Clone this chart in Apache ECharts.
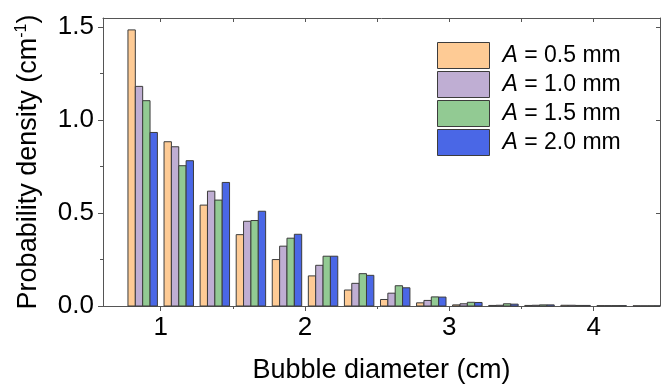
<!DOCTYPE html>
<html><head><meta charset="utf-8">
<script src="https://cdn.jsdelivr.net/npm/echarts@6/dist/echarts.min.js"></script>
<style>html,body{margin:0;padding:0;background:#fff}#c{width:662px;height:384px}</style>
</head><body><div id="c"></div>
<script>
const binCenters = [0.875, 1.125, 1.375, 1.625, 1.875, 2.125, 2.375, 2.625, 2.875, 3.125, 3.375, 3.625, 3.875, 4.125, 4.375];
const seriesNames = ['A = 0.5 mm', 'A = 1.0 mm', 'A = 1.5 mm', 'A = 2.0 mm'];
const a05 = [1.486, 0.884, 0.543, 0.384, 0.250, 0.162, 0.086, 0.035, 0.017, 0.006, 0.003, 0.003, 0.004, 0.002, 0.001];
const a10 = [1.182, 0.857, 0.618, 0.456, 0.322, 0.219, 0.122, 0.069, 0.030, 0.012, 0.004, 0.004, 0.004, 0.002, 0.001];
const a15 = [1.105, 0.755, 0.570, 0.460, 0.365, 0.268, 0.174, 0.109, 0.049, 0.020, 0.012, 0.006, 0.003, 0.002, 0.001];
const a20 = [0.934, 0.782, 0.665, 0.510, 0.386, 0.268, 0.165, 0.098, 0.048, 0.019, 0.010, 0.006, 0.003, 0.002, 0.001];
const xMajor = [1, 2, 3, 4];
const xMinor = [1.5, 2.5, 3.5];
const yMajor = [0, 0.5, 1.0, 1.5];
const yMinor = [0.25, 0.75, 1.25];

const colors = ['#FECB95', '#BFAED3', '#92CA93', '#4A67E6'];
const allData = [a05, a10, a15, a20];
const barW = 0.051;
const groupHalf = barW * 2;
const FONT = "'Liberation Sans', Arial, sans-serif";
const axisGray = '#555555';

const chart = echarts.init(document.getElementById('c'), null, {renderer: 'canvas'});

function makeRender(idx) {
  return function (params, api) {
    const c = api.value(0), v = api.value(1);
    const x0 = c - groupHalf + idx * barW;
    const p0 = api.coord([x0, v]);
    const p1 = api.coord([x0 + barW, 0]);
    const cs = params.coordSys;
    const shape = echarts.graphic.clipRectByRect(
      {x: p0[0], y: p0[1], width: p1[0] - p0[0], height: p1[1] - p0[1]},
      {x: cs.x, y: cs.y - 1, width: cs.width, height: cs.height + 2}
    );
    if (!shape) return null;
    return {
      type: 'rect', shape: shape,
      style: {fill: colors[idx], stroke: '#3c3c3c', lineWidth: 1}
    };
  };
}

const series = allData.map((arr, i) => ({
  name: seriesNames[i],
  type: 'custom',
  xAxisIndex: 0, yAxisIndex: 0,
  renderItem: makeRender(i),
  itemStyle: {color: colors[i], borderColor: '#3c3c3c', borderWidth: 1},
  encode: {x: 0, y: 1},
  data: binCenters.map((c, k) => [c, arr[k]])
}));

const xBase = {type: 'value', min: 0.6, max: 4.46, splitLine: {show: false}};
const yBase = {type: 'value', min: 0, max: 1.55, splitLine: {show: false}};

chart.setOption({
  animation: false,
  textStyle: {fontFamily: FONT},
  grid: {left: 103, right: 2, top: 18, bottom: 78, containLabel: false, outerBoundsMode: 'none'},
  legend: {
    orient: 'vertical', left: 437, top: 42, padding: 0,
    itemWidth: 52, itemHeight: 26, itemGap: 2,
    icon: 'rect',
    data: seriesNames.map((n, i) => ({name: n, icon: 'rect', itemStyle: {color: colors[i], borderColor: '#3c3c3c', borderWidth: 1}})),
    formatter: n => '{i|A}' + n.slice(1),
    textStyle: {fontSize: 23, lineHeight: 26, color: '#000', fontFamily: FONT, padding: [0, 0, 0, 8],
      rich: {i: {fontStyle: 'italic', fontSize: 23, lineHeight: 26, fontFamily: FONT, color: '#000'}}}
  },
  xAxis: [
    Object.assign({}, xBase, {
      position: 'bottom',
      axisLine: {show: true, onZero: false, lineStyle: {color: axisGray, width: 1}},
      axisTick: {show: true, customValues: xMajor, length: 5, lineStyle: {color: axisGray}},
      axisLabel: {show: true, customValues: xMajor, fontSize: 26, color: '#000', margin: 9, fontFamily: FONT},
      name: 'Bubble diameter (cm)', nameLocation: 'middle', nameGap: 51,
      nameTextStyle: {fontSize: 27, color: '#000', fontFamily: FONT}
    }),
    Object.assign({}, xBase, {
      position: 'bottom',
      axisLine: {show: false},
      axisTick: {show: true, customValues: xMinor, length: 3, lineStyle: {color: axisGray}},
      axisLabel: {show: false}
    }),
    Object.assign({}, xBase, {
      position: 'top',
      axisLine: {show: true, onZero: false, lineStyle: {color: axisGray, width: 1}},
      axisTick: {show: true, inside: true, customValues: xMajor.concat(xMinor), length: 4, lineStyle: {color: axisGray}},
      axisLabel: {show: false}
    })
  ],
  yAxis: [
    Object.assign({}, yBase, {
      position: 'left',
      axisLine: {show: true, onZero: false, lineStyle: {color: axisGray, width: 1}},
      axisTick: {show: true, customValues: yMajor, length: 5, lineStyle: {color: axisGray}},
      axisLabel: {show: true, customValues: yMajor, fontSize: 26, color: '#000', margin: 9, fontFamily: FONT,
        formatter: v => v.toFixed(1)},
      name: 'Probability density (cm{sup|-1})', nameLocation: 'middle', nameGap: 60,
      nameTextStyle: {fontSize: 27, color: '#000', fontFamily: FONT,
        rich: {sup: {fontSize: 16, color: '#000', fontFamily: FONT, padding: [0, 0, 13, 0]}}}
    }),
    Object.assign({}, yBase, {
      position: 'left',
      axisLine: {show: false},
      axisTick: {show: true, customValues: yMinor, length: 3, lineStyle: {color: axisGray}},
      axisLabel: {show: false}
    }),
    Object.assign({}, yBase, {
      position: 'right',
      axisLine: {show: true, onZero: false, lineStyle: {color: axisGray, width: 1}},
      axisTick: {show: true, inside: true, customValues: yMajor, length: 4, lineStyle: {color: axisGray}},
      axisLabel: {show: false}
    })
  ],
  series: series
});
</script>
</body></html>
